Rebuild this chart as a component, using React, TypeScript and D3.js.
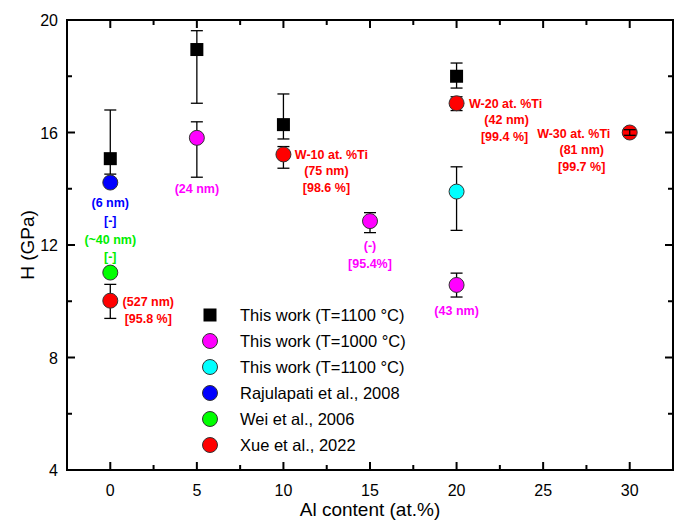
import React from "react";
import * as d3 from "d3";

// This work, T = 1100 °C (squares)
const sqX = [0, 5, 10, 20];
const sqH = [15.07, 18.95, 16.28, 18.0];
const sqHi = [16.8, 19.62, 17.37, 18.47];
const sqLo = [14.52, 17.04, 15.77, 17.58];

// This work, T = 1000 °C (magenta)
const magX = [5, 15, 20];
const magH = [15.81, 12.85, 10.58];
const magHi = [16.38, 13.15, 11.0];
const magLo = [14.41, 12.44, 10.15];

// This work, T = 1100 °C (cyan)
const cyanX = [20];
const cyanH = [13.9];
const cyanHi = [14.78];
const cyanLo = [12.52];

// Rajulapati et al., 2008
const blueX = [0];
const blueH = [14.22];

// Wei et al., 2006
const greenX = [0];
const greenH = [11.02];

// Xue et al., 2022
const redX = [0, 10, 20, 30];
const redH = [10.02, 15.22, 17.04, 16.0];
const redHi = [10.6, 15.5, 17.27, 16.1];
const redLo = [9.39, 14.73, 16.78, 15.9];

const legendLabels = [
  "This work (T=1100 °C)",
  "This work (T=1000 °C)",
  "This work (T=1100 °C)",
  "Rajulapati et al., 2008",
  "Wei et al., 2006",
  "Xue et al., 2022",
];
const legendColors = ["#000000", "#ff00ff", "#00ffff", "#0000ff", "#00ff00", "#ff0000"];

const xTicks = [0, 5, 10, 15, 20, 25, 30];
const xMinor = [2.5, 7.5, 12.5, 17.5, 22.5, 27.5];
const yTicks = [4, 8, 12, 16, 20];
const yMinor = [6, 10, 14, 18];

// annotation lines: [x, H, dx, dy, anchor, color, text]
const notes: [number, number, number, number, string, string, string][] = [
  [0, 14.22, 0, 24, "middle", "#0000ff", "(6 nm)"],
  [0, 14.22, 0, 42, "middle", "#0000ff", "[-]"],
  [0, 11.02, 0, -29, "middle", "#00ee00", "(~40 nm)"],
  [0, 11.02, 0, -12, "middle", "#00ee00", "[-]"],
  [0, 10.02, 38, 5, "middle", "#ff0000", "(527 nm)"],
  [0, 10.02, 38, 22, "middle", "#ff0000", "[95.8 %]"],
  [5, 15.81, 0, 55, "middle", "#ff00ff", "(24 nm)"],
  [10, 15.22, 48, 5, "middle", "#ff0000", "W-10 at. %Ti"],
  [10, 15.22, 43, 21, "middle", "#ff0000", "(75 nm)"],
  [10, 15.22, 43, 38, "middle", "#ff0000", "[98.6 %]"],
  [15, 12.85, 0, 29, "middle", "#ff00ff", "(-)"],
  [15, 12.85, 0, 47, "middle", "#ff00ff", "[95.4%]"],
  [20, 10.58, 0, 30, "middle", "#ff00ff", "(43 nm)"],
  [20, 17.04, 49, 5, "middle", "#ff0000", "W-20 at. %Ti"],
  [20, 17.04, 50, 21, "middle", "#ff0000", "(42 nm)"],
  [20, 17.04, 48, 38, "middle", "#ff0000", "[99.4 %]"],
  [30, 16.0, -56, 5, "middle", "#ff0000", "W-30 at. %Ti"],
  [30, 16.0, -48, 21, "middle", "#ff0000", "(81 nm)"],
  [30, 16.0, -48, 38, "middle", "#ff0000", "[99.7 %]"],
];

const W = 683;
const H = 521;
const left = 67;
const right = 673;
const top = 20;
const bottom = 470;

const x = d3.scaleLinear().domain([-2.5, 32.5]).range([left, right]);
const y = d3.scaleLinear().domain([4, 20]).range([bottom, top]);

const font = "'Liberation Sans', Arial, sans-serif";

function ErrBars({ xs, lo, hi }: { xs: number[]; lo: number[]; hi: number[] }) {
  return (
    <g stroke="#000" strokeWidth={1.3}>
      {xs.map((v, i) => (
        <g key={i}>
          <line x1={x(v)} x2={x(v)} y1={y(lo[i])} y2={y(hi[i])} />
          <line x1={x(v) - 6} x2={x(v) + 6} y1={y(lo[i])} y2={y(lo[i])} />
          <line x1={x(v) - 6} x2={x(v) + 6} y1={y(hi[i])} y2={y(hi[i])} />
        </g>
      ))}
    </g>
  );
}

function Dots({ xs, hs, color }: { xs: number[]; hs: number[]; color: string }) {
  return (
    <g>
      {xs.map((v, i) => (
        <circle key={i} cx={x(v)} cy={y(hs[i])} r={7.5} fill={color} stroke="#333" strokeWidth={1} />
      ))}
    </g>
  );
}

export default function App() {
  const majorLen = 8;
  const minorLen = 5;
  return (
    <svg width={W} height={H} style={{ position: "absolute", left: 0, top: 0, background: "#fff" }}>
      <rect width={W} height={H} fill="#fff" />
      {/* ticks on all four sides, inward */}
      <g stroke="#000" strokeWidth={2}>
        {xTicks.map((t) => (
          <g key={"xt" + t}>
            <line x1={x(t)} x2={x(t)} y1={bottom} y2={bottom - majorLen} />
            <line x1={x(t)} x2={x(t)} y1={top} y2={top + majorLen} />
          </g>
        ))}
        {xMinor.map((t) => (
          <g key={"xm" + t}>
            <line x1={x(t)} x2={x(t)} y1={bottom} y2={bottom - minorLen} />
            <line x1={x(t)} x2={x(t)} y1={top} y2={top + minorLen} />
          </g>
        ))}
        {yTicks.map((t) => (
          <g key={"yt" + t}>
            <line x1={left} x2={left + majorLen} y1={y(t)} y2={y(t)} />
            <line x1={right} x2={right - majorLen} y1={y(t)} y2={y(t)} />
          </g>
        ))}
        {yMinor.map((t) => (
          <g key={"ym" + t}>
            <line x1={left} x2={left + minorLen} y1={y(t)} y2={y(t)} />
            <line x1={right} x2={right - minorLen} y1={y(t)} y2={y(t)} />
          </g>
        ))}
      </g>
      <rect x={left} y={top} width={right - left} height={bottom - top} fill="none" stroke="#000" strokeWidth={2} />

      <g fontFamily={font} fontSize={16} fill="#000">
        {xTicks.map((t) => (
          <text key={"xl" + t} x={x(t)} y={bottom + 26} textAnchor="middle">
            {t}
          </text>
        ))}
        {yTicks.map((t) => (
          <text key={"yl" + t} x={left - 9} y={y(t) + 6} textAnchor="end">
            {t}
          </text>
        ))}
      </g>
      <text x={(left + right) / 2} y={516} textAnchor="middle" fontFamily={font} fontSize={19}>
        Al content (at.%)
      </text>
      <text
        transform={`translate(34,${(top + bottom) / 2}) rotate(-90)`}
        textAnchor="middle"
        fontFamily={font}
        fontSize={19}
      >
        H (GPa)
      </text>

      {/* error bars */}
      <ErrBars xs={sqX} lo={sqLo} hi={sqHi} />
      <ErrBars xs={magX} lo={magLo} hi={magHi} />
      <ErrBars xs={cyanX} lo={cyanLo} hi={cyanHi} />
      <ErrBars xs={redX} lo={redLo} hi={redHi} />

      {/* markers */}
      {sqX.map((v, i) => (
        <rect key={"sq" + i} x={x(v) - 6.5} y={y(sqH[i]) - 6.5} width={13} height={13} fill="#000" />
      ))}
      <Dots xs={magX} hs={magH} color="#ff00ff" />
      <Dots xs={cyanX} hs={cyanH} color="#00ffff" />
      <Dots xs={blueX} hs={blueH} color="#0000ff" />
      <Dots xs={greenX} hs={greenH} color="#00ff00" />
      <Dots xs={redX} hs={redH} color="#ff0000" />
      {/* Xue 30 at.% error bar sits on top of its marker */}
      <ErrBars xs={redX.slice(3)} lo={redLo.slice(3)} hi={redHi.slice(3)} />

      {/* annotations */}
      <g fontFamily={font} fontSize={12.5} fontWeight="bold">
        {notes.map((n, i) => (
          <text key={"n" + i} x={x(n[0]) + n[2]} y={y(n[1]) + n[3]} textAnchor={n[4]} fill={n[5]}>
            {n[6]}
          </text>
        ))}
      </g>

      {/* legend */}
      <g fontFamily={font} fontSize={16.5}>
        {legendLabels.map((lab, i) => {
          const ly = 315 + i * 26;
          return (
            <g key={"lg" + i}>
              {i === 0 ? (
                <rect x={203.5} y={ly - 6.5} width={13} height={13} fill="#000" />
              ) : (
                <circle cx={210} cy={ly} r={7.5} fill={legendColors[i]} stroke="#333" strokeWidth={1} />
              )}
              <text x={240} y={ly + 6}>
                {lab}
              </text>
            </g>
          );
        })}
      </g>
    </svg>
  );
}
